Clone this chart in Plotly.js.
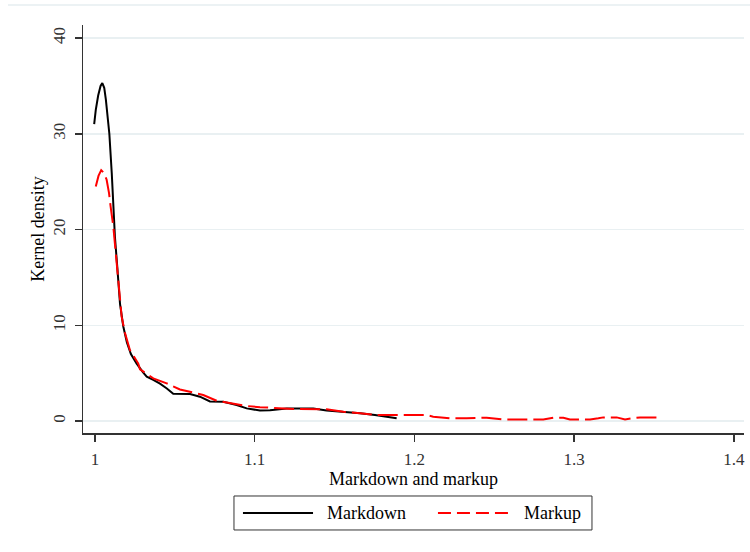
<!DOCTYPE html>
<html>
<head>
<meta charset="utf-8">
<script src="https://cdn.plot.ly/plotly-3.0.1.min.js"></script>
<style>
  html, body { margin: 0; padding: 0; background: #ffffff; }
  #chart { width: 750px; height: 552px; }
</style>
</head>
<body>
<div id="chart"></div>
<script>
// Kernel density estimates of markdown and markup
var markdownX = [0.9995, 1.0005, 1.002, 1.0035, 1.0046, 1.0058, 1.0068, 1.0078, 1.009, 1.0105,
                 1.0115, 1.0125, 1.014, 1.0157, 1.0177, 1.020, 1.0225, 1.0261, 1.030, 1.0324,
                 1.0365, 1.0407, 1.045, 1.049, 1.0595, 1.0657, 1.072, 1.0803, 1.0887, 1.095,
                 1.1033, 1.1096, 1.12, 1.1367, 1.145, 1.1555, 1.166, 1.1753, 1.1827, 1.1889];
var markdownY = [31.0, 32.5, 34.0, 35.0, 35.3, 34.8, 33.6, 32.0, 30.0, 25.9,
                 21.8, 19.2, 16.0, 12.2, 9.9, 8.2, 7.0, 6.0, 5.1, 4.63,
                 4.3, 3.9, 3.4, 2.85, 2.82, 2.54, 2.05, 2.02, 1.67, 1.32,
                 1.1, 1.12, 1.32, 1.32, 1.1, 0.97, 0.8, 0.63, 0.4, 0.28];

var markupX = [1.0005, 1.0022, 1.0039, 1.0056, 1.0073, 1.0088, 1.0098, 1.0115, 1.0136, 1.0152,
               1.0167, 1.0188, 1.0219, 1.0271, 1.0282, 1.0365, 1.0449, 1.0532, 1.0595, 1.0678,
               1.0762, 1.0866, 1.095, 1.1033, 1.1138, 1.1242, 1.145, 1.1555, 1.166, 1.1764,
               1.1868, 1.1993, 1.2077, 1.2118, 1.2223, 1.2327, 1.2453, 1.2557, 1.264, 1.2807,
               1.287, 1.2933, 1.2974, 1.31, 1.3152, 1.3183, 1.3267, 1.3319, 1.336, 1.3413,
               1.3517, 1.3548];
var markupY = [24.5, 25.6, 26.2, 25.9, 25.2, 23.8, 22.4, 20.3, 16.5, 13.7,
               10.9, 9.2, 7.4, 6.0, 5.4, 4.46, 3.94, 3.3, 3.06, 2.72,
               2.12, 1.78, 1.57, 1.45, 1.32, 1.25, 1.22, 0.97, 0.8, 0.63,
               0.63, 0.63, 0.63, 0.45, 0.28, 0.28, 0.35, 0.17, 0.17, 0.17,
               0.35, 0.35, 0.17, 0.17, 0.28, 0.38, 0.38, 0.17, 0.28, 0.38,
               0.38, 0.17];

var seriesNames = ['Markdown', 'Markup'];
var xTitle = 'Markdown and markup';
var yTitle = 'Kernel density';
var xTicks = [1, 1.1, 1.2, 1.3, 1.4];
var xTickText = ['1', '1.1', '1.2', '1.3', '1.4'];
var yTicks = [0, 10, 20, 30, 40];
var yTickText = ['0', '10', '20', '30', '40'];

var serif = '"Liberation Serif", "Times New Roman", serif';
var axisColor = '#333333';
var gridColor = '#e9f0f2';

var traces = [
  {
    x: markdownX, y: markdownY, name: seriesNames[0],
    type: 'scatter', mode: 'lines',
    line: { color: '#000000', width: 2 },
    showlegend: false, hoverinfo: 'skip'
  },
  {
    x: markupX, y: markupY, name: seriesNames[1],
    type: 'scatter', mode: 'lines',
    line: { color: '#ff0000', width: 2, dash: '20px,6px' },
    showlegend: false, hoverinfo: 'skip'
  }
];

// Legend frame, samples and labels placed below the x-axis title
var legendY = -0.196;
var shapes = [
  { type: 'line', xref: 'paper', yref: 'paper', x0: -0.1135, x1: 1.0136, y0: 1.049, y1: 1.049,
    line: { color: '#e6eef1', width: 1.5 } },
  { type: 'rect', xref: 'paper', yref: 'paper', x0: 0.2284, x1: 0.770, y0: -0.2377, y1: -0.1544,
    line: { color: '#333333', width: 1 }, fillcolor: 'rgba(0,0,0,0)' },
  { type: 'line', xref: 'paper', yref: 'paper', x0: 0.242, x1: 0.348, y0: legendY, y1: legendY,
    line: { color: '#000000', width: 2 } },
  { type: 'line', xref: 'paper', yref: 'paper', x0: 0.537, x1: 0.646, y0: legendY, y1: legendY,
    line: { color: '#ff0000', width: 2, dash: '13px,6px' } }
];

var annotations = [
  { xref: 'paper', yref: 'paper', x: 0.366, y: legendY, xanchor: 'left', yanchor: 'middle',
    text: seriesNames[0], showarrow: false, font: { family: serif, size: 18, color: '#000000' } },
  { xref: 'paper', yref: 'paper', x: 0.664, y: legendY, xanchor: 'left', yanchor: 'middle',
    text: seriesNames[1], showarrow: false, font: { family: serif, size: 18, color: '#000000' } }
];

var layout = {
  width: 750, height: 552,
  margin: { l: 83, r: 6, t: 25, b: 119, pad: 0 },
  paper_bgcolor: '#ffffff', plot_bgcolor: '#ffffff',
  showlegend: false,
  font: { family: serif, color: '#000000' },
  xaxis: {
    range: [0.9925, 1.4064],
    tickmode: 'array', tickvals: xTicks, ticktext: xTickText,
    ticks: 'outside', ticklen: 7, tickwidth: 1.5, tickcolor: axisColor,
    showline: true, linecolor: axisColor, linewidth: 1.5,
    showgrid: false, zeroline: false,
    tickfont: { family: serif, size: 17, color: '#333333' },
    ticklabelstandoff: 3,
    title: { text: xTitle, font: { family: serif, size: 18, color: '#000000' }, standoff: 0 }
  },
  yaxis: {
    range: [-1.25, 41.36],
    tickmode: 'array', tickvals: yTicks, ticktext: yTickText,
    tickangle: -90,
    ticks: 'outside', ticklen: 7, tickwidth: 1.5, tickcolor: axisColor,
    showline: true, linecolor: axisColor, linewidth: 1.5,
    showgrid: true, gridcolor: gridColor, gridwidth: 1.5, zeroline: false,
    tickfont: { family: serif, size: 17, color: '#333333' },
    ticklabelstandoff: 3,
    title: { text: yTitle, font: { family: serif, size: 18, color: '#000000' }, standoff: 0 }
  },
  shapes: shapes,
  annotations: annotations
};

Plotly.newPlot('chart', traces, layout, { displayModeBar: false, staticPlot: true });
</script>
</body>
</html>
